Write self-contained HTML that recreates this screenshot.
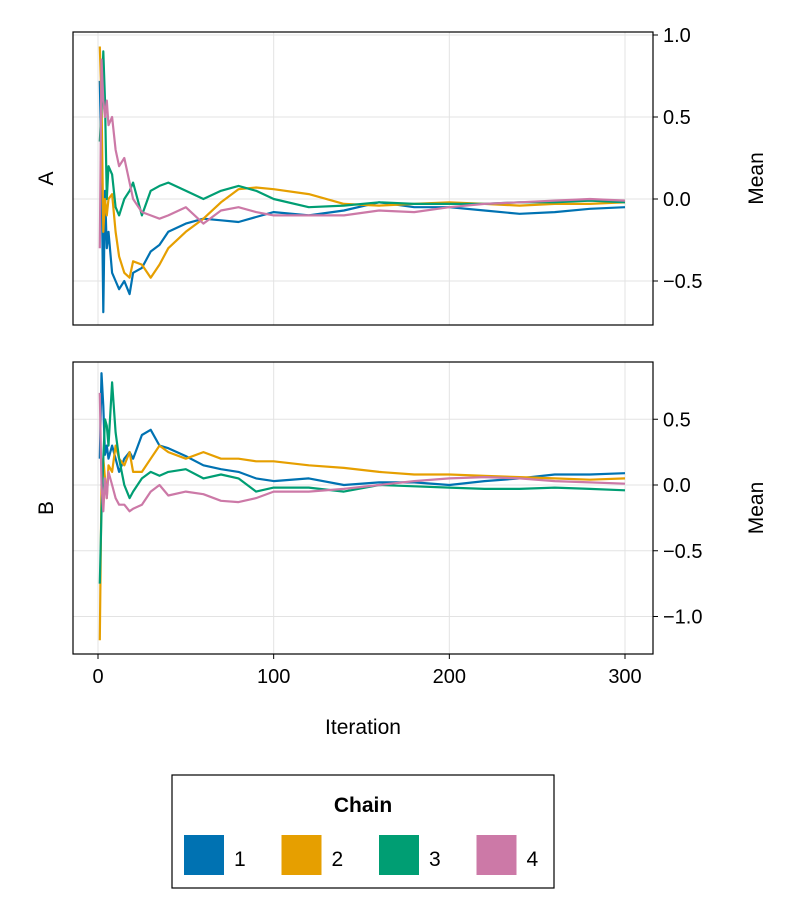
<!DOCTYPE html>
<html><head><meta charset="utf-8"><style>
body{margin:0;background:#fff;font-family:"Liberation Sans",Arial,sans-serif}
svg{display:block}
</style></head><body>
<svg id="chart" width="800" height="920" font-family="Liberation Sans, Arial, sans-serif"></svg>
<script>
const iterations=[1,2,3,4,5,6,8,10,12,15,18,20,25,30,35,40,50,60,70,80,90,100,120,140,160,180,200,220,240,260,280,300];
const chainLabels=["1","2","3","4"];
const colors=["#0072B2","#E69F00","#009E73","#CC79A7"];
const xTicks=[0,100,200,300];
const aTicks=[1.0,0.5,0.0,-0.5];
const bTicks=[0.5,0.0,-0.5,-1.0];
const aChain1=[0.72,0.2,-0.69,0.05,-0.3,-0.2,-0.45,-0.5,-0.55,-0.5,-0.58,-0.45,-0.42,-0.32,-0.28,-0.2,-0.15,-0.12,-0.13,-0.14,-0.11,-0.08,-0.1,-0.07,-0.02,-0.05,-0.05,-0.07,-0.09,-0.08,-0.06,-0.05];
const aChain2=[0.93,0.6,-0.2,0.0,-0.1,0.0,0.03,-0.2,-0.35,-0.45,-0.48,-0.38,-0.4,-0.48,-0.4,-0.3,-0.2,-0.12,-0.02,0.06,0.07,0.06,0.03,-0.03,-0.04,-0.03,-0.02,-0.03,-0.04,-0.03,-0.03,-0.02];
const aChain3=[0.35,0.55,0.9,0.6,0.0,0.2,0.15,-0.05,-0.1,0.0,0.05,0.1,-0.1,0.05,0.08,0.1,0.05,0.0,0.05,0.08,0.05,0.0,-0.05,-0.04,-0.02,-0.03,-0.03,-0.03,-0.02,-0.02,-0.01,-0.02];
const aChain4=[-0.3,0.85,0.6,0.5,0.6,0.45,0.5,0.3,0.2,0.25,0.1,0.0,-0.08,-0.1,-0.12,-0.1,-0.05,-0.15,-0.07,-0.05,-0.08,-0.1,-0.1,-0.1,-0.07,-0.08,-0.05,-0.03,-0.02,-0.01,0.0,-0.01];
const bChain1=[0.2,0.85,0.6,0.23,0.3,0.2,0.3,0.2,0.1,0.2,0.25,0.2,0.38,0.42,0.3,0.28,0.22,0.15,0.12,0.1,0.05,0.03,0.05,0.0,0.02,0.02,0.0,0.03,0.05,0.08,0.08,0.09];
const bChain2=[-1.18,0.0,0.2,0.05,-0.1,0.15,0.1,0.3,0.2,0.15,0.25,0.1,0.1,0.2,0.3,0.25,0.2,0.25,0.2,0.2,0.18,0.18,0.15,0.13,0.1,0.08,0.08,0.07,0.06,0.05,0.04,0.05];
const bChain3=[-0.75,-0.2,0.2,0.5,0.45,0.3,0.78,0.4,0.2,0.0,-0.1,-0.05,0.05,0.1,0.07,0.1,0.12,0.05,0.08,0.05,-0.05,-0.02,-0.02,-0.05,0.0,-0.01,-0.02,-0.03,-0.03,-0.02,-0.03,-0.04];
const bChain4=[0.7,0.0,-0.2,0.05,-0.1,0.1,0.0,-0.1,-0.15,-0.15,-0.2,-0.18,-0.15,-0.05,0.0,-0.08,-0.05,-0.07,-0.12,-0.13,-0.1,-0.05,-0.05,-0.03,0.0,0.03,0.05,0.06,0.05,0.03,0.02,0.01];

const NS="http://www.w3.org/2000/svg";
const svg=document.getElementById('chart');
function el(tag,attrs,parent){const e=document.createElementNS(NS,tag);for(const k in attrs)e.setAttribute(k,attrs[k]);(parent||svg).appendChild(e);return e;}
const X0=73,X1=653;
function xs(v){return 98+(v-0)*(625-98)/300;}
function fmt(v){const s=v.toFixed(1);return v<0?"\u2212"+s.slice(1):s;}

function panel(name,top,bottom,yZeroPx,pxPerUnit,ticks,series,showX){
  const ys=v=>yZeroPx-v*pxPerUnit;
  const g=el('g',{});
  
  
  xTicks.forEach(t=>{const l=el('line',{x1:xs(t),x2:xs(t),y1:top,y2:bottom,stroke:'#e3e3e3','stroke-width':1},g);
    });
  ticks.forEach(t=>{const l=el('line',{x1:X0,x2:X1,y1:ys(t),y2:ys(t),stroke:'#e3e3e3','stroke-width':1},g);
    
    const tk=el('line',{x1:X1,x2:X1+5,y1:ys(t),y2:ys(t),stroke:'#000'},g);
    
    const tx=el('text',{x:X1+10,y:ys(t)+7,'font-size':20},g);tx.textContent=fmt(t);
    });
  const cp=el('clipPath',{id:'clip'+name},g);el('rect',{x:X0,y:top,width:X1-X0,height:bottom-top},cp);
  series.forEach((s,i)=>{
    const d=s.map((v,j)=>(j?'L':'M')+xs(iterations[j]).toFixed(1)+','+ys(v).toFixed(1)).join('');
    const p=el('path',{d:d,fill:'none',stroke:colors[i],'stroke-width':2.2,'stroke-linejoin':'round','clip-path':'url(#clip'+name+')'},g);
    
    
  });
  const fr=el('rect',{x:X0,y:top,width:X1-X0,height:bottom-top,fill:'none',stroke:'#000','stroke-width':1.2},g);
  
  const lab=el('text',{x:0,y:0,'font-size':21,'text-anchor':'middle',transform:`translate(53,${(top+bottom)/2}) rotate(-90)`},g);
  lab.textContent=name;
  const ml=el('text',{x:0,y:0,'font-size':21,'text-anchor':'middle',transform:`translate(763,${(top+bottom)/2}) rotate(-90)`},g);
  ml.textContent='Mean';
  if(showX){xTicks.forEach(t=>{
    const tk=el('line',{x1:xs(t),x2:xs(t),y1:bottom,y2:bottom+5,stroke:'#000'},g);
    
    const tx=el('text',{x:xs(t),y:bottom+29,'font-size':20,'text-anchor':'middle'},g);tx.textContent=t;
    });}
}
panel('A',32,325,199,164,aTicks,[aChain1,aChain2,aChain3,aChain4],false);
panel('B',362,654,485,131.5,bTicks,[bChain1,bChain2,bChain3,bChain4],true);
const xt=el('text',{x:363,y:734,'font-size':21,'text-anchor':'middle'});xt.textContent='Iteration';


const lg=el('g',{});


el('rect',{x:172,y:775,width:382,height:113,fill:'#fff',stroke:'#000','stroke-width':1.2},lg);
const lt=el('text',{x:363,y:812,'font-size':21,'font-weight':'bold','text-anchor':'middle'},lg);lt.textContent='Chain';


chainLabels.forEach((c,i)=>{
  const e=el('g',{},lg);
  
  
  const bx=184+i*97.5;
  el('rect',{x:bx,y:835,width:40,height:40,fill:colors[i]},e);
  const t=el('text',{x:bx+50,y:866,'font-size':21},e);t.textContent=c;
});
</script>
</body></html>
